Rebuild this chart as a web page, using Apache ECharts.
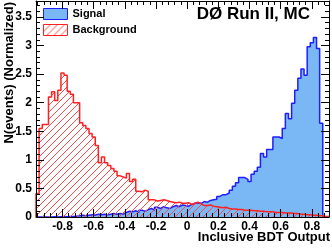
<!DOCTYPE html>
<html><head><meta charset="utf-8">
<script src="https://cdn.jsdelivr.net/npm/echarts@6/dist/echarts.min.js"></script>
<style>html,body{margin:0;padding:0;background:#fff}#c{width:332px;height:248px}</style>
</head><body><div id="c"></div>
<script>
// ---- data ----
const binLow = -0.97;
const binWidth = 0.02;
const xMin = -0.97, xMax = 0.91;
const yMin = 0, yMax = 3.78;

const signal = [
  0,0,0,0,0,0.005,0,0.005,0.01,0.005,0.01,0.01,0.015,
  0.02,0.03,0.02,0.03,0.04,0.03,0.05,0.04,0.05,0.04,0.05,0.06,0.05,0.06,0.05,
  0.08,0.10,0.09,0.11,0.08,0.12,0.10,0.13,0.15,0.12,0.17,0.15,0.18,0.16,0.15,0.18,0.20,0.18,0.21,0.20,
  0.19,0.22,0.24,0.25,0.24,0.27,0.26,0.29,0.30,0.31,
  0.36,0.39,0.39,0.42,0.47,0.54,0.60,0.69,0.69,0.66,0.62,0.75,0.80,0.87,1.11,1.05,1.18,1.18,1.40,1.40,
  1.37,1.55,1.81,1.72,1.99,2.22,2.43,2.59,2.48,2.98,3.05,3.14,2.95,1.64,0,0
];
const background = [
  0.41,1.55,1.62,1.62,2.10,2.19,2.04,2.22,2.52,2.48,2.20,2.15,2.00,2.00,
  1.65,1.60,1.55,1.46,1.40,1.25,0.95,1.05,0.95,0.90,0.85,0.80,0.72,0.70,0.68,0.76,0.62,0.66,0.45,0.44,0.47,0.45,
  0.30,0.30,0.28,0.29,0.30,0.29,0.27,0.26,0.25,0.26,0.24,0.24,0.25,0.22,0.24,0.26,0.23,0.20,0.20,0.21,0.19,0.18,
  0.17,0.16,0.17,0.15,0.14,0.14,0.13,0.13,0.12,0.12,0.12,0.11,0.11,0.10,0.10,0.09,0.09,0.09,0.08,0.08,0.08,0.07,0.07,0.07,0.06,0.06,0.05,0.05,0.04,0.04,0.03,0.03,0.02,0.02,0.01,0.01
];
const seriesNames = ['Signal', 'Background'];
const xTicks = [-0.8,-0.6,-0.4,-0.2,0,0.2,0.4,0.6,0.8];
const yTicks = [0,0.5,1,1.5,2,2.5,3,3.5];
const xMinorTicks = [];
for (let k = -24; k <= 22; k++) xMinorTicks.push(+(k*0.04).toFixed(2));
const yMinorTicks = [];
for (let k = 1; k <= 37; k++) yMinorTicks.push(+(k*0.1).toFixed(1));
const titleText = 'DØ Run II, MC';
const xTitle = 'Inclusive BDT Output';
const yTitle = 'N(events) (Normalized)';

// ---- helpers ----
function histData(vals){
  const d = [[binLow, 0]];
  vals.forEach((v,i)=> d.push([+(binLow + i*binWidth).toFixed(4), v]));
  const end = +(binLow + vals.length*binWidth).toFixed(4);
  d.push([end, vals[vals.length-1]]);
  d.push([end, 0]);
  return d;
}
function makeHatch(){
  const c = document.createElement('canvas'); c.width = 7; c.height = 7;
  const g = c.getContext('2d');
  g.strokeStyle = '#ff4a4a'; g.lineWidth = 1;
  g.beginPath();
  g.moveTo(-1,8); g.lineTo(8,-1);
  g.moveTo(-1,1); g.lineTo(1,-1);
  g.moveTo(6,8); g.lineTo(8,6);
  g.stroke();
  return c;
}
const hatch = {image: makeHatch(), repeat: 'repeat'};
const FONT = "'Liberation Sans', Arial, Helvetica, sans-serif";
const sigFill = '#7ab8f5', sigLine = '#1e1eff', bkgLine = '#ff2020';
const gridRect = {left: 36, right: 3, top: 1, bottom: 31};

function tickAxis(pos, gridIndex, isX, values, len, showLine, labels){
  const ax = {
    type: 'value', gridIndex: gridIndex, position: pos, z: 10,
    min: isX ? xMin : yMin, max: isX ? xMax : yMax,
    axisLine: {show: showLine, onZero: false, lineStyle: {color: '#000', width: 1}},
    axisTick: {show: true, inside: true, length: len, customValues: values, lineStyle: {color: '#000', width: 1}},
    splitLine: {show: false},
    axisLabel: {show: false}
  };
  if (labels) {
    ax.axisLabel = {show: true, customValues: values, margin: 4,
      formatter: v => String(v), color: '#000', fontFamily: FONT, fontWeight: 'bold', fontSize: 12};
  }
  return ax;
}

const chart = echarts.init(document.getElementById('c'), null, {renderer: 'canvas'});
chart.setOption({
  animation: false,
  backgroundColor: '#fff',
  grid: [Object.assign({}, gridRect), Object.assign({}, gridRect)],
  xAxis: [
    tickAxis('bottom', 0, true, xTicks, 8, true, true),
    tickAxis('top', 0, true, xTicks, 8, true, false),
    tickAxis('bottom', 1, true, xMinorTicks, 4, false, false),
    tickAxis('top', 1, true, xMinorTicks, 4, false, false)
  ],
  yAxis: [
    tickAxis('left', 0, false, yTicks, 8, true, true),
    tickAxis('right', 0, false, yTicks, 8, true, false),
    tickAxis('left', 1, false, yMinorTicks, 4, false, false),
    tickAxis('right', 1, false, yMinorTicks, 4, false, false)
  ],
  legend: {
    orient: 'vertical', left: 38, top: 3, itemWidth: 24, itemHeight: 11, itemGap: 4,
    selectedMode: false,
    textStyle: {fontFamily: FONT, fontWeight: 'bold', fontSize: 11, color: '#000'},
    data: [
      {name: seriesNames[0], icon: 'rect', itemStyle: {color: sigFill, borderColor: sigLine, borderWidth: 1}},
      {name: seriesNames[1], icon: 'rect', itemStyle: {color: hatch, borderColor: bkgLine, borderWidth: 1}}
    ]
  },
  series: [
    {name: seriesNames[0], type: 'line', step: 'end', xAxisIndex: 0, yAxisIndex: 0,
     symbol: 'none', data: histData(signal), z: 2,
     lineStyle: {color: sigLine, width: 1.5}, itemStyle: {color: sigFill},
     areaStyle: {color: sigFill, opacity: 1}},
    {name: seriesNames[1], type: 'line', step: 'end', xAxisIndex: 0, yAxisIndex: 0,
     symbol: 'none', data: histData(background), z: 3,
     lineStyle: {color: bkgLine, width: 1.5}, itemStyle: {color: bkgLine},
     areaStyle: {color: hatch, opacity: 1}}
  ],
  graphic: [
    {type: 'text', x: 310, y: 14, z: 20, style: {text: titleText, fill: '#000', font: "bold 17px " + FONT, align: 'right', verticalAlign: 'middle'}},
    {type: 'text', x: 330, y: 237, z: 20, style: {text: xTitle, fill: '#000', font: "bold 13px " + FONT, align: 'right', verticalAlign: 'middle'}},
    {type: 'text', x: 9, y: 2, rotation: Math.PI/2, z: 20, style: {text: yTitle, fill: '#000', font: "bold 13px " + FONT, align: 'right', verticalAlign: 'middle'}}
  ]
});
</script></body></html>
